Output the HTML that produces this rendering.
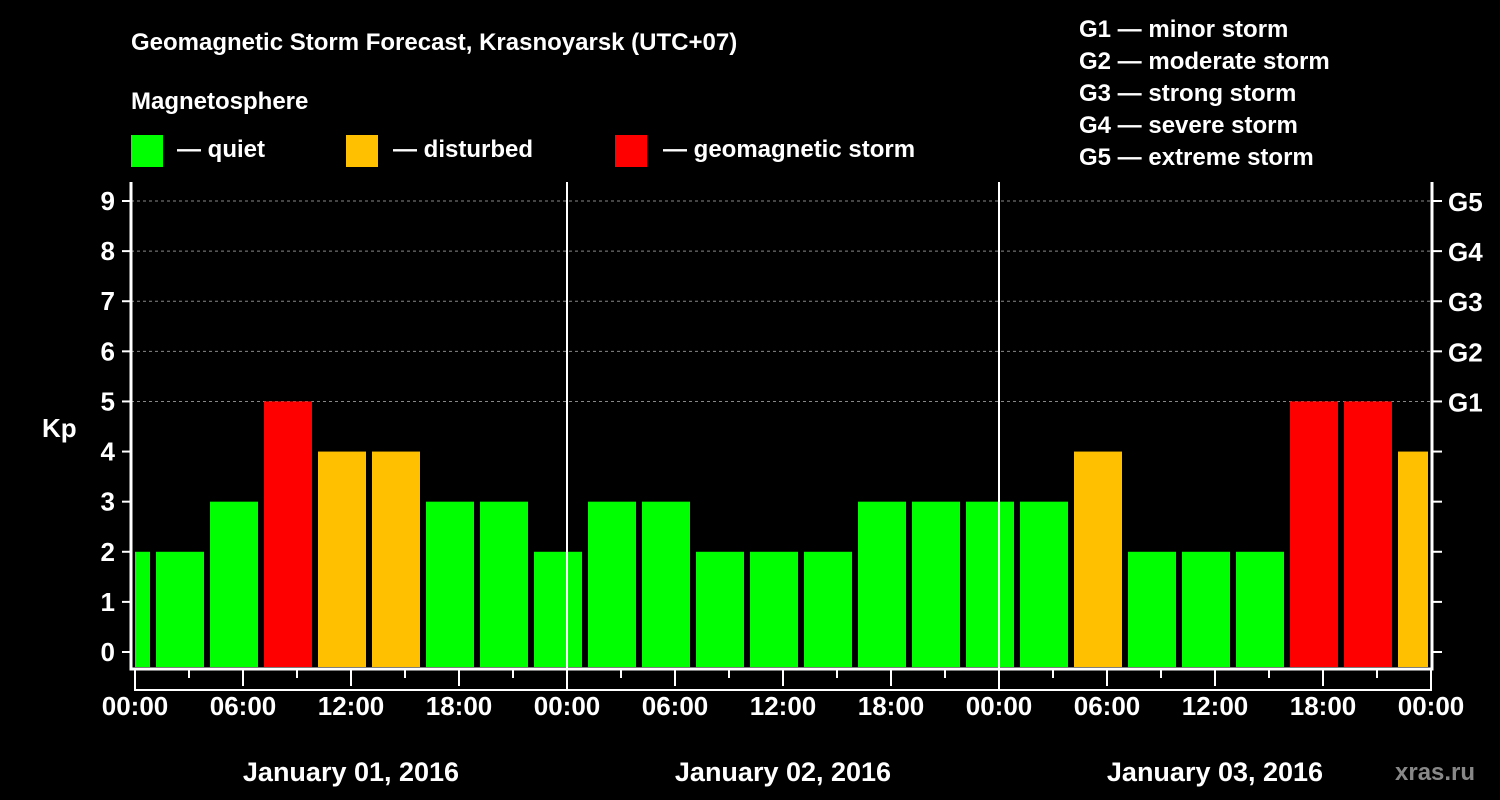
<!DOCTYPE html>
<html><head><meta charset="utf-8"><style>
html,body{margin:0;padding:0;background:#000;}
svg{display:block;font-family:"Liberation Sans",Arial,sans-serif;font-weight:bold;}
</style></head><body>
<svg id="chart" width="1500" height="800" viewBox="0 0 1500 800">
<rect x="0" y="0" width="1500" height="800" fill="#000"/>
<text x="131" y="50" fill="#fff" font-size="24">Geomagnetic Storm Forecast, Krasnoyarsk (UTC+07)</text>
<text x="131" y="109" fill="#fff" font-size="24">Magnetosphere</text>
<g><rect x="131" y="135" width="32" height="32" fill="#00ff00"/><text x="177" y="157" fill="#fff" font-size="24">— quiet</text></g>
<g><rect x="346" y="135" width="32" height="32" fill="#ffc000"/><text x="393" y="157" fill="#fff" font-size="24">— disturbed</text></g>
<g><rect x="615" y="135" width="32" height="32" fill="#ff0000"/><text x="663" y="157" fill="#fff" font-size="24">— geomagnetic storm</text></g>
<g fill="#fff" font-size="24">
<text x="1079" y="37">G1 — minor storm</text>
<text x="1079" y="69">G2 — moderate storm</text>
<text x="1079" y="101">G3 — strong storm</text>
<text x="1079" y="133">G4 — severe storm</text>
<text x="1079" y="165">G5 — extreme storm</text>
</g>
<text x="42" y="437" fill="#fff" font-size="26">Kp</text>
<text x="1395" y="780" fill="#888" font-size="24">xras.ru</text>
<g id="grid"></g>
<g id="bars"></g>
<g id="axes"></g>
</svg>
<script>
const NS="http://www.w3.org/2000/svg";
const kpValues=[2,2,3,5,4,4,3,3,2,3,3,2,2,2,3,3,3,3,4,2,2,2,5,5,4];
const barStartHours=[-2,1,4,7,10,13,16,19,22,25,28,31,34,37,40,43,46,49,52,55,58,61,64,67,70];
const yTicks=[0,1,2,3,4,5,6,7,8,9];
const gLabels=["G1","G2","G3","G4","G5"];
const gLevels=[5,6,7,8,9];
const xTickLabels=["00:00","06:00","12:00","18:00","00:00","06:00","12:00","18:00","00:00","06:00","12:00","18:00","00:00"];
const dayLabels=["January 01, 2016","January 02, 2016","January 03, 2016"];
const L=131,R=1432,T=182,B=668,X0=135,HOURS=72;
const xs=h=>X0+(1431-X0)*h/HOURS;
const ys=k=>652-50.11*k;
function color(k){return k>=5?"#ff0000":(k>=4?"#ffc000":"#00ff00");}
function mk(tag,attrs,parent,txt){const e=document.createElementNS(NS,tag);for(const a in attrs)e.setAttribute(a,attrs[a]);if(txt!==undefined)e.textContent=txt;parent.appendChild(e);return e;}
const grid=document.getElementById("grid"),bars=document.getElementById("bars"),axes=document.getElementById("axes");
gLevels.forEach(k=>{const l=mk("line",{x1:L,x2:R,y1:ys(k),y2:ys(k),stroke:"#888","stroke-width":1,"stroke-dasharray":"3,3"},grid);

});
kpValues.forEach((k,i)=>{const h=barStartHours[i];let x1=Math.max(xs(h)+3,X0),x2=Math.min(xs(h+3)-3,1428);
const r=mk("rect",{x:x1,y:ys(k),width:x2-x1,height:667-ys(k),fill:color(k)},bars);

});
[24,48].forEach(h=>{const l=mk("line",{x1:xs(h),x2:xs(h),y1:T,y2:B,stroke:"#fff","stroke-width":2},axes);

});
const frame=mk("path",{d:`M${L},${T} V${B+1} H${R} V${T}`,stroke:"#fff","stroke-width":3,fill:"none"},axes);


yTicks.forEach(k=>{const y=ys(k);
mk("line",{x1:L-9,x2:L,y1:y,y2:y,stroke:"#fff","stroke-width":2},axes);
mk("line",{x1:R,x2:R+10,y1:y,y2:y,stroke:"#fff","stroke-width":2},axes);
const t=mk("text",{x:L-16,y:y+9,fill:"#fff","font-size":26,"text-anchor":"end"},axes,String(k));

});
gLevels.forEach((k,i)=>{const t=mk("text",{x:1448,y:ys(k)+10,fill:"#fff","font-size":26},axes,gLabels[i]);

});
for(let h=0;h<=HOURS;h+=3){const major=h%6===0;mk("line",{x1:xs(h),x2:xs(h),y1:B+2,y2:major?B+18:B+10,stroke:"#fff","stroke-width":2},axes);}
xTickLabels.forEach((s,i)=>{const t=mk("text",{x:xs(i*6),y:715,fill:"#fff","font-size":26,"text-anchor":"middle"},axes,s);

});
const br=mk("path",{d:`M${xs(0)},681 V690 H${xs(72)} V681 M${xs(24)},681 V690 M${xs(48)},681 V690`,stroke:"#fff","stroke-width":2,fill:"none"},axes);


dayLabels.forEach((s,i)=>{const t=mk("text",{x:xs(i*24+12),y:781,fill:"#fff","font-size":27,"text-anchor":"middle"},axes,s);

});
</script>
</body></html>
